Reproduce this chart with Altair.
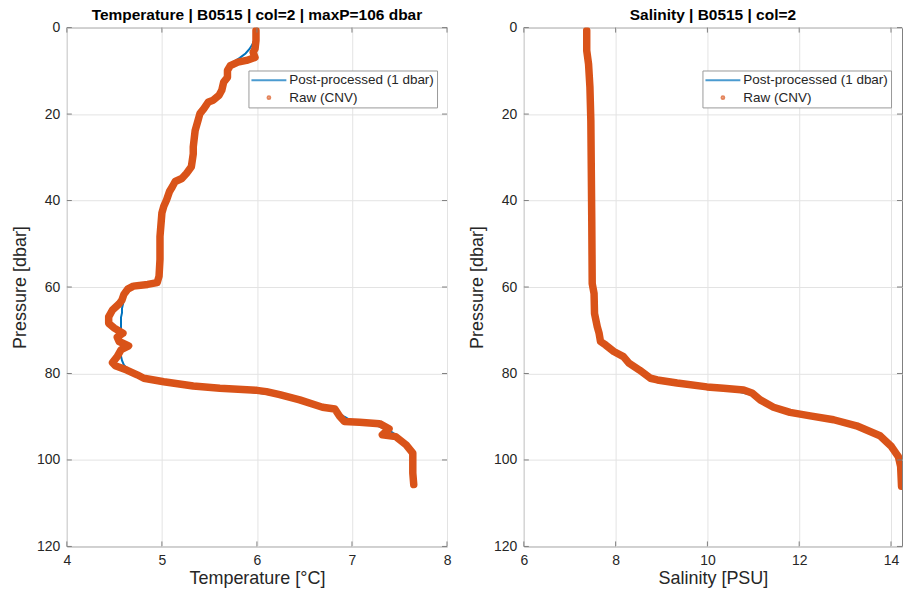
import altair as alt
import pandas as pd

# ---- colours / fonts -------------------------------------------------------
BLUE = "#0072BD"
ORANGE = "#D95319"
FONT = "Liberation Sans"
TEXT = "#262626"
FRAME = "#808080"
GRID = "#e3e3e3"

# ---- data --------------------------------------------------------------------
series_names = ["Post-processed (1 dbar)", "Raw (CNV)"]

# 1-dbar binned profile (pressure bins 1..105 dbar)
bin_p = list(range(1, 106))
temp_binned = [
    5.99, 5.98, 5.97, 5.95, 5.92, 5.88, 5.82, 5.75, 5.70, 5.69,
    5.68, 5.66, 5.64, 5.63, 5.61, 5.57, 5.50, 5.46, 5.42, 5.40,
    5.38, 5.36, 5.35, 5.35, 5.34, 5.34, 5.33, 5.33, 5.33, 5.32,
    5.31, 5.31, 5.28, 5.24, 5.18, 5.13, 5.10, 5.08, 5.06, 5.05,
    5.03, 5.01, 5.00, 4.99, 4.99, 4.99, 4.98, 4.98, 4.98, 4.98,
    4.98, 4.98, 4.98, 4.98, 4.97, 4.97, 4.97, 4.96, 4.93, 4.72,
    4.64, 4.61, 4.60, 4.59, 4.58, 4.58, 4.57, 4.57, 4.57, 4.57,
    4.57, 4.57, 4.57, 4.57, 4.57, 4.57, 4.58, 4.60, 4.64, 4.72,
    4.80, 5.00, 5.35, 5.85, 6.18, 6.40, 6.58, 6.75, 6.85, 6.92,
    7.00, 7.25, 7.38, 7.45, 7.50, 7.55, 7.59, 7.62, 7.64, 7.64,
    7.64, 7.64, 7.64, 7.64, 7.65,
]
sal_binned = [
    7.37, 7.37, 7.37, 7.37, 7.37, 7.38, 7.39, 7.40, 7.41, 7.42,
    7.43, 7.43, 7.44, 7.44, 7.45, 7.45, 7.45, 7.46, 7.46, 7.46,
    7.46, 7.46, 7.46, 7.46, 7.47, 7.47, 7.47, 7.47, 7.47, 7.47,
    7.47, 7.47, 7.47, 7.47, 7.47, 7.48, 7.48, 7.48, 7.48, 7.48,
    7.48, 7.48, 7.48, 7.48, 7.48, 7.48, 7.48, 7.48, 7.48, 7.49,
    7.49, 7.49, 7.49, 7.49, 7.49, 7.49, 7.49, 7.49, 7.49, 7.50,
    7.52, 7.53, 7.53, 7.54, 7.54, 7.54, 7.56, 7.58, 7.60, 7.62,
    7.65, 7.66, 7.72, 7.85, 7.98, 8.15, 8.25, 8.36, 8.50, 8.63,
    8.75, 9.22, 9.90, 10.60, 10.98, 11.13, 11.30, 11.45, 11.80, 12.40,
    12.85, 13.20, 13.45, 13.68, 13.85, 13.97, 14.03, 14.10, 14.15, 14.18,
    14.20, 14.21, 14.22, 14.22, 14.23,
]

# raw CTD scans (downcast, acquisition order)
temp_raw_p = [
    0.7, 3.0, 4.9, 5.7, 6.9, 7.6, 8.0, 8.8, 9.9, 11.5,
    12.6, 14.5, 15.7, 16.8, 17.2, 18.8, 19.9, 21.5, 23.8, 27.6,
    29.2, 32.2, 33.7, 34.9, 35.6, 36.8, 37.9, 39.8, 41.3, 42.9,
    48.3, 53.6, 57.5, 59.0, 59.4, 59.8, 60.5, 61.7, 63.0, 63.9,
    65.3, 66.9, 68.4, 69.5, 70.7, 71.6, 72.6, 73.6, 74.5, 76.1,
    77.5, 78.2, 79.2, 80.3, 81.1, 81.9, 82.9, 83.4, 83.9, 84.2,
    84.9, 86.1, 87.8, 88.2, 89.9, 91.1, 91.3, 91.6, 92.8, 94.2,
    94.6, 96.5, 98.4, 100.7, 103.0, 105.7,
]
temp_raw_t = [
    5.99, 5.99, 5.98, 5.96, 5.98, 5.89, 5.80, 5.72, 5.69, 5.69,
    5.65, 5.63, 5.60, 5.54, 5.49, 5.44, 5.40, 5.38, 5.35, 5.33,
    5.33, 5.31, 5.26, 5.21, 5.14, 5.11, 5.08, 5.05, 5.02, 5.00,
    4.98, 4.98, 4.97, 4.95, 4.85, 4.70, 4.64, 4.60, 4.58, 4.55,
    4.48, 4.44, 4.44, 4.50, 4.59, 4.53, 4.55, 4.65, 4.57, 4.53,
    4.48, 4.51, 4.63, 4.74, 4.81, 5.02, 5.33, 5.61, 6.00, 6.10,
    6.24, 6.45, 6.69, 6.82, 6.87, 6.92, 7.08, 7.29, 7.39, 7.32,
    7.46, 7.57, 7.64, 7.64, 7.64, 7.65,
]
sal_raw_p = [
    0.7, 5.3, 8.4, 13.8, 21.5, 33.0, 44.5, 59.2, 61.5, 66.1,
    69.2, 70.7, 72.6, 73.4, 74.9, 76.1, 77.6, 79.2, 81.1, 81.5,
    82.2, 83.1, 83.4, 83.8, 84.5, 86.1, 87.8, 89.0, 89.8, 90.7,
    92.1, 94.4, 96.9, 99.2, 101.5, 106.1,
]
sal_raw_s = [
    7.37, 7.37, 7.41, 7.44, 7.46, 7.47, 7.48, 7.49, 7.53, 7.54,
    7.60, 7.64, 7.67, 7.78, 7.96, 8.17, 8.29, 8.52, 8.76, 8.91,
    9.34, 9.99, 10.35, 10.79, 10.97, 11.15, 11.44, 11.80, 12.24, 12.75,
    13.25, 13.76, 14.01, 14.16, 14.21, 14.23,
]

pressure_ticks = [0, 20, 40, 60, 80, 100, 120]
temp_ticks = [4, 5, 6, 7, 8]
sal_ticks = [6, 8, 10, 12, 14]

# ---- layout -------------------------------------------------------------------
H = 520
TICK_LEN = 5

# legend symbols: a line sample and a small dot, drawn as custom paths
LINE_PATH = "M-1.35,0H5.65"
DOT_PATH = "M1.87,0A0.28,0.28,0,1,0,2.43,0A0.28,0.28,0,1,0,1.87,0Z"


def panel(binned_vals, raw_p, raw_v, x_title, x_domain, x_ticks, title, width, legend_x):
    xscale = alt.Scale(domain=x_domain, nice=False, zero=False)
    yscale = alt.Scale(domain=[0, 120], reverse=True, nice=False, zero=False)
    xaxis = alt.Axis(values=x_ticks, title=x_title, labelFlush=False,
                     labelOverlap=False, labelPadding=7.5, titlePadding=1.5)
    yaxis = alt.Axis(values=pressure_ticks, title="Pressure [dbar]",
                     labelFlush=False, labelOverlap=False,
                     minExtent=31, maxExtent=31, titlePadding=6)
    x = alt.X("v:Q", scale=xscale, axis=xaxis)
    y = alt.Y("p:Q", scale=yscale, axis=yaxis)

    binned_df = pd.DataFrame({"p": bin_p, "v": binned_vals})
    raw_df = pd.DataFrame({"i": list(range(len(raw_p))), "p": raw_p, "v": raw_v})
    xt = pd.DataFrame({"v": x_ticks})
    yt = pd.DataFrame({"p": pressure_ticks})

    binned = alt.Chart(binned_df).mark_line(
        color=BLUE, strokeWidth=2, clip=True
    ).encode(x=x, y=y, order="p:Q")

    raw = alt.Chart(raw_df).mark_line(
        color=ORANGE, strokeWidth=7.5, strokeCap="round", strokeJoin="round", clip=True
    ).encode(x=x, y=y, order="i:Q")

    # inward-pointing ticks on all four sides of the box
    tick = dict(color=FRAME, strokeWidth=1)
    xb = alt.Chart(xt).mark_rule(**tick).encode(x=x, y=alt.value(H), y2=alt.value(H - TICK_LEN))
    xtp = alt.Chart(xt).mark_rule(**tick).encode(x=x, y=alt.value(0), y2=alt.value(TICK_LEN))
    yl = alt.Chart(yt).mark_rule(**tick).encode(y=y, x=alt.value(0), x2=alt.value(TICK_LEN))
    yr = alt.Chart(yt).mark_rule(**tick).encode(y=y, x=alt.value(width), x2=alt.value(width - TICK_LEN))

    leg = alt.Legend(
        title=None, orient="none", legendX=legend_x, legendY=43,
        padding=3, fillColor="white", strokeColor="#9a9a9a", cornerRadius=0,
        labelFont=FONT, labelFontSize=13.5, labelColor=TEXT, labelLimit=400,
        labelOffset=24.5, rowPadding=2.5, symbolSize=100, symbolStrokeWidth=2,
    )
    legend_layer = alt.Chart(pd.DataFrame({"series": series_names})).mark_point(
        filled=False, strokeWidth=2
    ).encode(
        color=alt.Color("series:N", scale=alt.Scale(domain=series_names, range=[BLUE, ORANGE]), legend=leg),
        shape=alt.Shape("series:N", scale=alt.Scale(domain=series_names, range=[LINE_PATH, DOT_PATH]), legend=leg),
    ).transform_filter("false")

    return alt.layer(binned, raw, xb, xtp, yl, yr, legend_layer).properties(
        width=width, height=H,
        title=alt.TitleParams(text=title, offset=-3),
    )


left = panel(temp_binned, temp_raw_p, temp_raw_t, "Temperature [°C]", [4, 8], temp_ticks,
             "Temperature | B0515 | col=2 | maxP=106 dbar", 381, 182)
right = panel(sal_binned, sal_raw_p, sal_raw_s, "Salinity [PSU]", [6, 14.24], sal_ticks,
              "Salinity | B0515 | col=2", 379, 179)

chart = alt.hconcat(left, right, spacing=16).resolve_scale(
    color="independent", shape="independent"
).properties(
    padding={"left": 11, "top": 7, "right": 0, "bottom": 0},
    background="white",
).configure_view(
    stroke=FRAME, strokeWidth=1
).configure_axis(
    labelFont=FONT, labelFontSize=14, labelColor=TEXT, labelPadding=7,
    titleFont=FONT, titleFontSize=18, titleColor=TEXT, titleFontWeight="normal",
    grid=True, gridColor=GRID, gridWidth=1,
    domain=False, ticks=False, tickSize=0,
).configure_title(
    font=FONT, fontSize=15.5, fontWeight="bold", color="#000000", anchor="middle",
)

chart.save("out.html", embed_options={"renderer": "svg", "actions": False})
